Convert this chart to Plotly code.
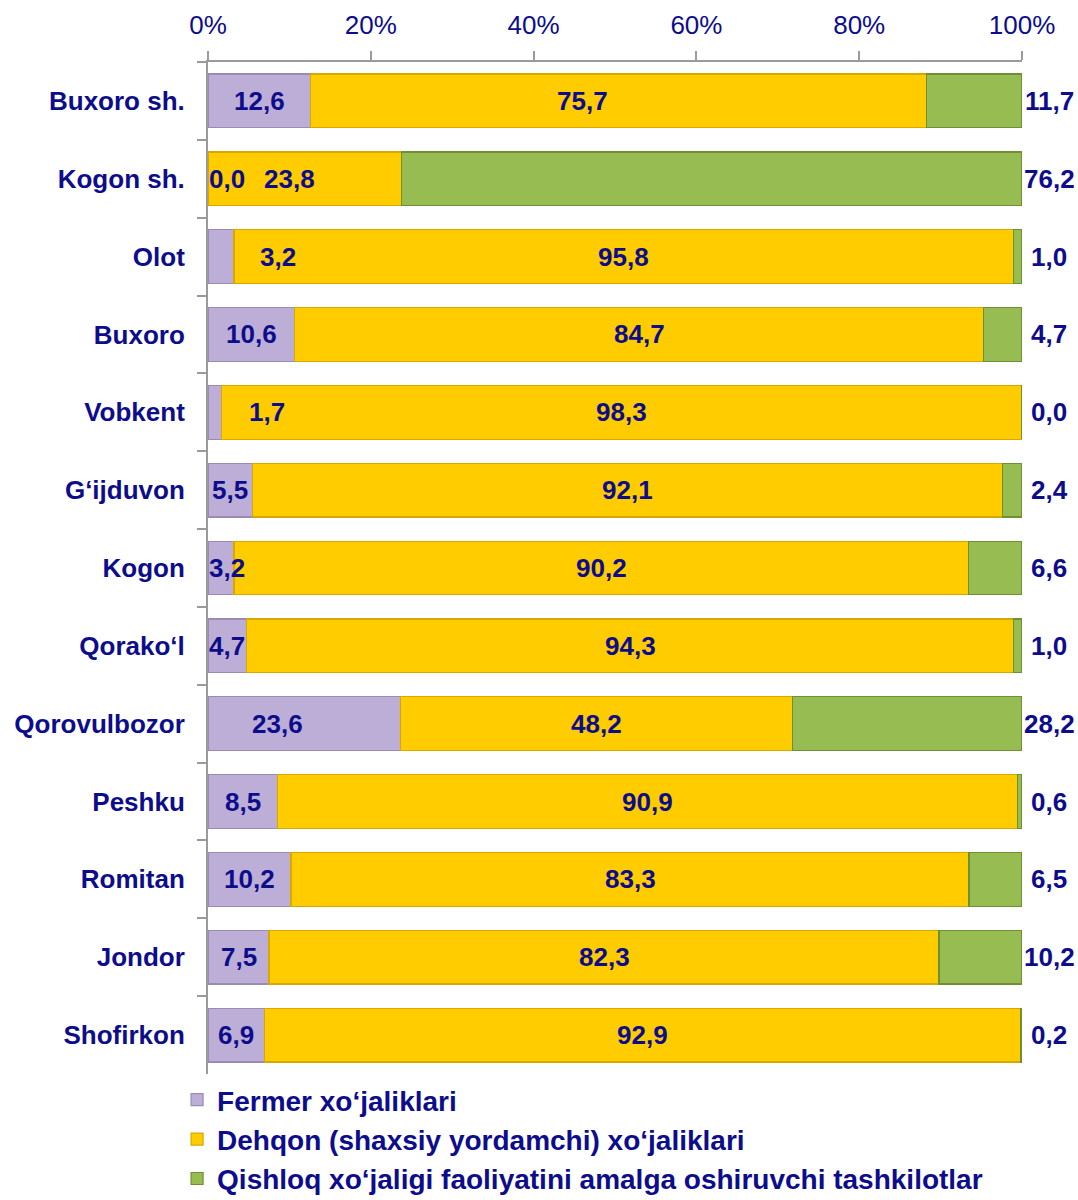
import plotly.graph_objects as go

# districts of Buxoro region, top to bottom
districts = ["Buxoro sh.", "Kogon sh.", "Olot", "Buxoro", "Vobkent", "G‘ijduvon", "Kogon",
             "Qorako‘l", "Qorovulbozor", "Peshku", "Romitan", "Jondor", "Shofirkon"]

fermer = [12.6, 0.0, 3.2, 10.6, 1.7, 5.5, 3.2, 4.7, 23.6, 8.5, 10.2, 7.5, 6.9]
dehqon = [75.7, 23.8, 95.8, 84.7, 98.3, 92.1, 90.2, 94.3, 48.2, 90.9, 83.3, 82.3, 92.9]
tashkilot = [11.7, 76.2, 1.0, 4.7, 0.0, 2.4, 6.6, 1.0, 28.2, 0.6, 6.5, 10.2, 0.2]

series_names = ["Fermer xo‘jaliklari",
                "Dehqon (shaxsiy yordamchi) xo‘jaliklari",
                "Qishloq xo‘jaligi faoliyatini amalga oshiruvchi tashkilotlar"]

x_ticks = [0, 20, 40, 60, 80, 100]

NAVY = "#0d0d8c"
FONT = "Liberation Sans, Arial, sans-serif"
fills = ["#bcaed6", "#ffcc00", "#96bc52"]
edges = ["#9a8bb5", "#d9a800", "#6f8f35"]

# a few labels Excel had nudged by hand (x in %)
label_nudge = {(0, "Olot"): 8.6, (0, "Vobkent"): 7.2, (0, "Qorovulbozor"): 8.5,
               (1, "Kogon sh."): 10.0, (1, "Buxoro sh."): 46.0}


def fmt(v):
    return f"{v:.1f}".replace(".", ",")


fig = go.Figure()
for i, vals in enumerate([fermer, dehqon, tashkilot]):
    fig.add_trace(go.Bar(
        y=districts, x=vals, orientation="h", name=series_names[i],
        marker=dict(color=fills[i], line=dict(color=edges[i], width=1.2)),
        hoverinfo="x+name",
    ))

annotations = []
for k, d in enumerate(districts):
    f, h, t = fermer[k], dehqon[k], tashkilot[k]
    x0 = max(f / 2, 2.3)
    x0 = label_nudge.get((0, d), x0)
    x1 = label_nudge.get((1, d), f + h / 2)
    annotations.append(dict(x=x0, y=d, text=fmt(f), showarrow=False))
    annotations.append(dict(x=x1, y=d, text=fmt(h), showarrow=False))
    annotations.append(dict(x=100, y=d, text=fmt(t), showarrow=False, xshift=27))
for a in annotations:
    a.update(xref="x", yref="y", font=dict(family=FONT, size=26, color=NAVY, weight="bold"))

fig.update_layout(
    width=1078, height=1200,
    barmode="stack", bargap=0.31,
    plot_bgcolor="white", paper_bgcolor="white",
    margin=dict(l=208, r=56, t=62, b=126, autoexpand=False),
    font=dict(family=FONT, color=NAVY),
    annotations=annotations,
    showlegend=True,
    legend=dict(
        orientation="v", traceorder="normal",
        x=-0.038, xanchor="left", y=-0.001, yanchor="top",
        font=dict(family=FONT, size=28, color=NAVY, weight="bold"),
        itemwidth=30, bgcolor="rgba(0,0,0,0)",
    ),
    xaxis=dict(
        side="top", range=[0, 100], tickvals=x_ticks,
        ticktext=[f"{v}%" for v in x_ticks],
        showgrid=False, zeroline=False,
        showline=True, linecolor="#9a9a9a", linewidth=2,
        ticks="outside", ticklen=9, tickcolor="#9a9a9a", tickwidth=2,
        ticklabelstandoff=7,
        tickfont=dict(family=FONT, size=26, color=NAVY),
        fixedrange=True,
    ),
    yaxis=dict(
        autorange="reversed", showgrid=False,
        showline=True, linecolor="#9a9a9a", linewidth=2,
        ticks="outside", ticklen=9, tickcolor="#9a9a9a", tickwidth=2,
        tickson="boundaries", ticklabelstandoff=16,
        tickfont=dict(family=FONT, size=26, color=NAVY, weight="bold"),
        fixedrange=True,
    ),
)

# drop the default 8px page margin so the figure fills the window
fig.write_html("out.html", config={"displayModeBar": False},
               post_script="document.body.style.margin='0';")
